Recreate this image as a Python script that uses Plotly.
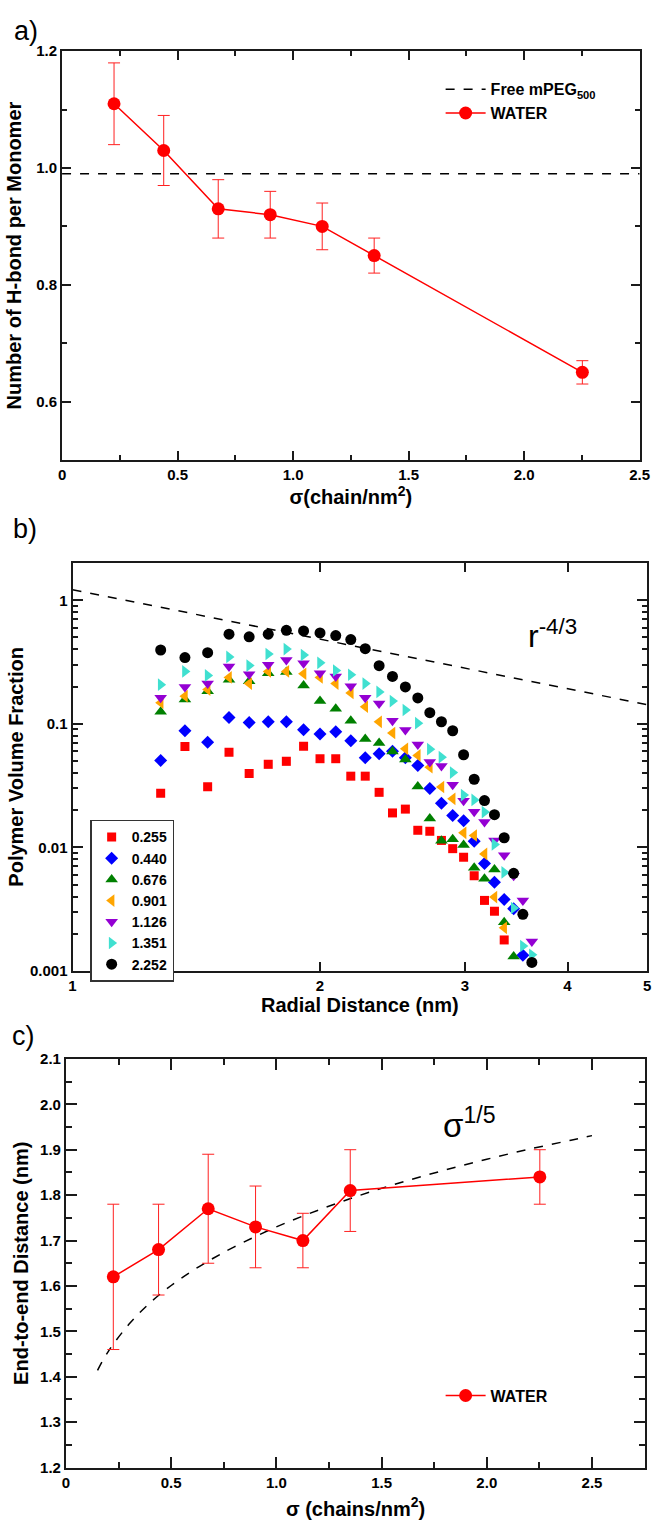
import plotly.graph_objects as go

FONT = "Liberation Sans, Arial, Helvetica, sans-serif"

# ---------------- Panel a data ----------------
sigma_a = [0.225, 0.44, 0.676, 0.901, 1.126, 1.351, 2.252]
hbond = [1.11, 1.03, 0.93, 0.92, 0.90, 0.85, 0.65]
hbond_err = [0.07, 0.06, 0.05, 0.04, 0.04, 0.03, 0.02]
free_mpeg_x = [0.0, 2.5]
free_mpeg_y = [0.99, 0.99]

# ---------------- Panel b data ----------------
radial = [1.28, 1.37, 1.46, 1.55, 1.64, 1.73, 1.82, 1.91, 2.00, 2.09, 2.18, 2.27, 2.36, 2.45,
          2.54, 2.63, 2.72, 2.81, 2.90, 2.99, 3.08, 3.17, 3.26, 3.35, 3.44, 3.53, 3.62]
phi_0255 = [0.0274, 0.0655, 0.0309, 0.0589, 0.0396, 0.0470, 0.0497, 0.0658, 0.0522, 0.0522, 0.0377,
            0.0377, 0.0279, 0.0190, 0.0204, 0.01375, 0.0135, 0.01138, 0.00976, 0.00832, 0.00589,
            0.00372, 0.00304, 0.00178]
phi_0440 = [0.0506, 0.0879, 0.0709, 0.1123, 0.1024, 0.1038, 0.1038, 0.0895, 0.0827, 0.0863, 0.0731,
            0.0532, 0.0572, 0.0600, 0.0532, 0.0461, 0.0300, 0.0228, 0.0181, 0.0164, 0.01123,
            0.00741, 0.00522, 0.00379, 0.00319, 0.00134]
phi_0676 = [0.1254, 0.1576, 0.1837, 0.2278, 0.2208, 0.2572, 0.2630, 0.2040, 0.1528, 0.1326, 0.1057,
            0.0754, 0.0701, 0.0597, 0.0515, 0.0311, 0.0171, 0.01132, 0.01165, 0.01047, 0.00683,
            0.00558, 0.00663, 0.00247, 0.00131]
phi_0901 = [0.1481, 0.1675, 0.1895, 0.2377, 0.2117, 0.2655, 0.2655, 0.2544, 0.2377, 0.2117, 0.1780,
            0.1375, 0.1038, 0.0843, 0.0628, 0.0555, 0.0445, 0.0308, 0.0247, 0.01311, 0.01247,
            0.00884, 0.00396, 0.00223]
phi_1126 = [0.1623, 0.1988, 0.2117, 0.2911, 0.2525, 0.3004, 0.3281, 0.3094, 0.2572, 0.2421, 0.2014,
            0.1623, 0.1464, 0.1057, 0.0890, 0.0679, 0.0490, 0.0455, 0.0322, 0.0238, 0.0194,
            0.01605, 0.01138, 0.00863, 0.00589, 0.00372, 0.00173]
phi_1351 = [0.2077, 0.2655, 0.2466, 0.3480, 0.2965, 0.3677, 0.4033, 0.3610, 0.3116, 0.2704, 0.2497,
            0.2117, 0.1813, 0.1528, 0.1294, 0.1013, 0.0623, 0.0537, 0.0403, 0.0265, 0.0242,
            0.0193, 0.01057, 0.00627, 0.00323, 0.00159, 0.00135]
phi_2252 = [0.396, 0.344, 0.377, 0.532, 0.506, 0.532, 0.572, 0.565, 0.545, 0.518, 0.481, 0.406,
            0.296, 0.242, 0.199, 0.162, 0.123, 0.104, 0.0879, 0.0562, 0.0356, 0.0239, 0.0184,
            0.01196, 0.00616, 0.00287, 0.00117]
series_labels = ["0.255", "0.440", "0.676", "0.901", "1.126", "1.351", "2.252"]
series_values = [phi_0255, phi_0440, phi_0676, phi_0901, phi_1126, phi_1351, phi_2252]
series_colors = ["#ff0000", "#0000ff", "#008000", "#ffa500", "#9400d3", "#40e0d0", "#000000"]
series_symbols = ["square", "diamond", "triangle-up", "triangle-left", "triangle-down",
                  "triangle-right", "circle"]
series_sizes = [9, 10, 11, 11, 11, 11, 11]
scaling_r = [1.0, 5.0]
scaling_phi = [1.22, 0.143]

# ---------------- Panel c data ----------------
sigma_c = [0.225, 0.44, 0.676, 0.901, 1.126, 1.351, 2.252]
ree = [1.62, 1.68, 1.77, 1.73, 1.70, 1.81, 1.84]
ree_err = [0.16, 0.10, 0.12, 0.09, 0.06, 0.09, 0.06]
fit_sigma = [0.15, 0.2, 0.3, 0.4, 0.5, 0.6, 0.7, 0.8, 1.0, 1.2, 1.4, 1.6, 1.8, 2.0, 2.2, 2.4, 2.5]
fit_ree = [1.414, 1.455, 1.516, 1.563, 1.601, 1.633, 1.661, 1.686, 1.730, 1.767, 1.800, 1.829,
           1.855, 1.879, 1.901, 1.921, 1.931]

W, H = 666, 1528


def px_x(p):
    return p / W


def px_y(p):
    return 1 - p / H


fig = go.Figure()

# Panel a traces
fig.add_trace(go.Scatter(
    x=free_mpeg_x, y=free_mpeg_y, mode="lines", name="Free mPEG<sub>500</sub>",
    line=dict(color="black", dash="dash", width=1.5), xaxis="x", yaxis="y", legend="legend"))
fig.add_trace(go.Scatter(
    x=sigma_a, y=hbond, mode="lines+markers", name="WATER",
    line=dict(color="#ff0000", width=1.5), marker=dict(color="#ff0000", size=13),
    error_y=dict(type="data", array=hbond_err, color="#ff2020", thickness=1, width=6),
    xaxis="x", yaxis="y", legend="legend"))

# Panel b traces
fig.add_trace(go.Scatter(
    x=scaling_r, y=scaling_phi, mode="lines", showlegend=False,
    line=dict(color="black", dash="dash", width=1.5), xaxis="x2", yaxis="y2"))
for lab, vals, col, sym, sz in zip(series_labels, series_values, series_colors,
                                   series_symbols, series_sizes):
    fig.add_trace(go.Scatter(
        x=radial[:len(vals)], y=vals, mode="markers", name=lab,
        marker=dict(color=col, symbol=sym, size=sz, line=dict(width=0)),
        xaxis="x2", yaxis="y2", legend="legend2"))

# Panel c traces
fig.add_trace(go.Scatter(
    x=fit_sigma, y=fit_ree, mode="lines", showlegend=False, line_shape="spline",
    line=dict(color="black", dash="dash", width=1.5), xaxis="x3", yaxis="y3"))
fig.add_trace(go.Scatter(
    x=sigma_c, y=ree, mode="lines+markers", name="WATER",
    line=dict(color="#ff0000", width=1.5), marker=dict(color="#ff0000", size=13),
    error_y=dict(type="data", array=ree_err, color="#ff2020", thickness=1, width=6),
    xaxis="x3", yaxis="y3", legend="legend3"))

AX_COL = "#1a1a1a"
base = dict(showline=True, linecolor=AX_COL, linewidth=2, mirror="ticks", ticks="inside",
            tickcolor=AX_COL, tickwidth=2, showgrid=False, zeroline=False,
            tickfont=dict(family=FONT, size=15, color="black", weight="bold"))
title_font = dict(family=FONT, size=20, color="black", weight="bold")

minor_b_vals = [m * 10 ** e for e in (-3, -2, -1, 0) for m in range(2, 10)]

fig.update_layout(
    width=W, height=H, margin=dict(l=0, r=0, t=0, b=0),
    paper_bgcolor="white", plot_bgcolor="white",
    font=dict(family=FONT, color="black"),
    xaxis=dict(base, domain=[px_x(59.3), px_x(649.3)], anchor="y", range=[0, 2.5],
               tickmode="array", tickvals=[0, 0.5, 1.0, 1.5, 2.0, 2.5],
               ticktext=["0", "0.5", "1.0", "1.5", "2.0", "2.5"], ticklen=9,
               minor=dict(tickmode="linear", tick0=0, dtick=0.25, ticks="inside", ticklen=5,
                          tickwidth=2, tickcolor=AX_COL),
               title=dict(text="σ(chain/nm<sup>2</sup>)", font=title_font, standoff=8)),
    yaxis=dict(base, domain=[px_y(456), px_y(42.7)], anchor="x", range=[0.5, 1.2],
               tickmode="array", tickvals=[0.6, 0.8, 1.0, 1.2],
               ticktext=["0.6", "0.8", "1.0", "1.2"], ticklen=9,
               minor=dict(tickmode="linear", tick0=0.5, dtick=0.1, ticks="inside", ticklen=5,
                          tickwidth=2, tickcolor=AX_COL),
               title=dict(text="Number of H-bond per Monomer", font=title_font, standoff=9)),
    xaxis2=dict(base, domain=[px_x(70), px_x(657)], anchor="y2", type="log",
                range=[0, 0.69897], tickmode="array", tickvals=[1, 2, 3, 4, 5],
                ticktext=["1", "2", "3", "4", "5"], ticklen=9,
                title=dict(text="Radial Distance (nm)", font=title_font, standoff=2)),
    yaxis2=dict(base, domain=[px_y(972.7), px_y(560)], anchor="x2", type="log",
                range=[-3, 0.304], tickmode="array", tickvals=[0.001, 0.01, 0.1, 1],
                ticktext=["0.001", "0.01", "0.1", "1"], ticklen=10,
                minor=dict(tickmode="array", tickvals=minor_b_vals, ticks="inside", ticklen=5,
                           tickwidth=1.5, tickcolor=AX_COL),
                title=dict(text="Polymer Volume Fraction", font=title_font, standoff=1)),
    xaxis3=dict(base, domain=[px_x(63.3), px_x(655)], anchor="y3", range=[0, 2.753],
                tickmode="array", tickvals=[0, 0.5, 1.0, 1.5, 2.0, 2.5],
                ticktext=["0", "0.5", "1.0", "1.5", "2.0", "2.5"], ticklen=11,
                minor=dict(tickmode="linear", tick0=0, dtick=0.25, ticks="inside", ticklen=6,
                           tickwidth=2, tickcolor=AX_COL),
                title=dict(text="σ (chains/nm<sup>2</sup>)", font=title_font, standoff=12)),
    yaxis3=dict(base, domain=[px_y(1475), px_y(1061.7)], anchor="x3", range=[1.2, 2.1],
                tickmode="array", tickvals=[1.2, 1.3, 1.4, 1.5, 1.6, 1.7, 1.8, 1.9, 2.0, 2.1],
                ticktext=["1.2", "1.3", "1.4", "1.5", "1.6", "1.7", "1.8", "1.9", "2.0", "2.1"],
                ticklen=11,
                minor=dict(tickmode="linear", tick0=1.2, dtick=0.05, ticks="inside", ticklen=6,
                           tickwidth=2, tickcolor=AX_COL),
                title=dict(text="End-to-end Distance (nm)", font=title_font, standoff=6)),
    legend=dict(x=px_x(446), y=px_y(64), xanchor="left", yanchor="top",
                font=dict(family=FONT, size=16, color="black", weight="bold"),
                bgcolor="rgba(0,0,0,0)", borderwidth=0, itemwidth=40, tracegroupgap=0),
    legend2=dict(x=px_x(88), y=px_y(820), xanchor="left", yanchor="top",
                 font=dict(family=FONT, size=14, color="black", weight="bold"),
                 bgcolor="white", bordercolor="#333", borderwidth=1.5, itemwidth=30,
                 tracegroupgap=0),
    legend3=dict(x=px_x(446), y=px_y(1385), xanchor="left", yanchor="top",
                 font=dict(family=FONT, size=16, color="black", weight="bold"),
                 bgcolor="rgba(0,0,0,0)", borderwidth=0, itemwidth=40),
    annotations=[
        dict(text="a)", x=px_x(8), y=px_y(22), xref="paper", yref="paper", xanchor="left",
             yanchor="middle", showarrow=False, font=dict(family=FONT, size=27, color="black")),
        dict(text="b)", x=px_x(7), y=px_y(526), xref="paper", yref="paper", xanchor="left",
             yanchor="middle", showarrow=False, font=dict(family=FONT, size=27, color="black")),
        dict(text="c)", x=px_x(6), y=px_y(1039), xref="paper", yref="paper", xanchor="left",
             yanchor="middle", showarrow=False, font=dict(family=FONT, size=27, color="black")),
        dict(text="r<sup>-4/3</sup>", x=px_x(533), y=px_y(632), xref="paper", yref="paper",
             xanchor="left", yanchor="middle", showarrow=False,
             font=dict(family=FONT, size=32, color="black")),
        dict(text="σ<sup>1/5</sup>", x=px_x(446), y=px_y(1127), xref="paper", yref="paper",
             xanchor="left", yanchor="middle", showarrow=False,
             font=dict(family=FONT, size=33, color="black")),
    ],
)

fig.write_html("out.html", config={"displayModeBar": False},
               post_script="document.body.style.margin='0';")
